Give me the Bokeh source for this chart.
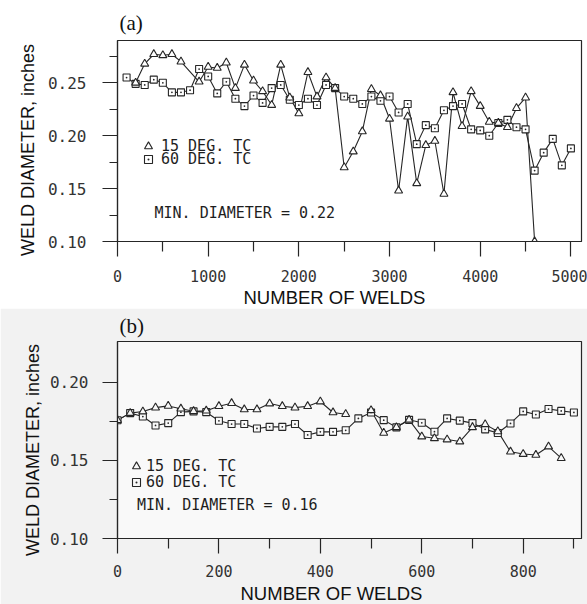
from bokeh.embed import file_html
from bokeh.layouts import column
from bokeh.models import (FixedTicker, Label, Legend, LegendItem,
                          NumeralTickFormatter, Range1d, Title)
from bokeh.plotting import figure
from bokeh.resources import INLINE

NAN = float("nan")  # missing reading: breaks the trace

# ---------------------------------------------------------------------------
# (a) weld diameter vs. number of welds, long run (readings every 100 welds)
# ---------------------------------------------------------------------------
welds_a_15 = [200, 300, 400, 500, 600, 700, 900, 1000, 1100, 1200, 1300, 1400,
              1500, 1600, 1700, 1800, 1900, 2000, 2100, 2200, 2300, 2400, 2500,
              2600, 2700, 2800, 2900, 3000, 3100, 3200, 3300, 3400, 3500, 3600,
              3700, 3800, 3900, 4000, 4100, 4200, 4300, 4400, 4500, 4600]
diam_a_15 = [0.250, 0.268, 0.277, 0.276, 0.277, 0.270, 0.251, 0.265, 0.264,
             0.269, 0.245, 0.267, 0.252, 0.242, 0.229, 0.267, 0.236, 0.221,
             0.260, 0.237, 0.255, 0.245, 0.170, 0.185, 0.204, 0.244, 0.238,
             0.216, 0.148, 0.218, 0.155, 0.191, 0.195, 0.145, 0.241, 0.209,
             0.242, 0.228, 0.213, 0.212, 0.208, 0.226, 0.236, 0.100]

welds_a_60 = [100, 200, 300, 400, 500, 600, 700, 800, 900, 1000, 1100, 1200,
              1300, 1400, 1500, 1600, 1700, 1800, 1900, 2000, 2100, 2200, 2300,
              2400, 2500, 2600, 2700, 2800, 2900, 3000, 3100, 3200, 3300, 3400,
              3500, 3600, 3700, 3800, 3900, 4000, 4100, 4200, 4300, 4400, 4500,
              4600, 4700, 4800, 4900, 5000]
diam_a_60 = [0.255, 0.249, 0.248, 0.253, 0.250, 0.241, 0.241, 0.243, 0.263,
             0.256, 0.240, 0.251, 0.235, 0.228, 0.238, 0.231, 0.245, 0.248,
             0.234, 0.229, 0.235, 0.229, 0.248, 0.245, 0.237, 0.235, 0.230,
             0.237, 0.233, 0.237, 0.222, 0.230, 0.192, 0.210, 0.207, 0.224,
             0.228, 0.230, 0.206, 0.205, 0.200, 0.212, 0.215, 0.208, 0.206,
             0.167, 0.184, 0.197, 0.172, 0.188]

# ---------------------------------------------------------------------------
# (b) weld diameter vs. number of welds, short run (readings every 25 welds)
# ---------------------------------------------------------------------------
welds_b_15 = [0, 25, 50, 75, 100, 125, 150, 175, 200, 225, 250, 275, 300, 325,
              350, 375, 400, 425, 450, 475, 500, 525, 550, 575, 600, 625, 650,
              675, 700, 725, 750, 775, 800, 825, 850, 875]
diam_b_15 = [0.1757, 0.1802, 0.1812, 0.1837, 0.1848, 0.1830, 0.1814, 0.1817,
             0.1846, 0.1865, 0.1825, 0.1825, 0.1863, 0.1846, 0.1837, 0.1846,
             0.1876, 0.1806, 0.1795, NAN, 0.1820, 0.1675, 0.1711, 0.1759,
             0.1652, 0.1641, 0.1633, 0.1620, 0.1711, 0.1730, 0.1685, 0.1555,
             0.1540, 0.1534, 0.1588, 0.1514]

welds_b_60 = [0, 25, 50, 75, 100, 125, 150, 175, 200, 225, 250, 275, 300, 325,
              350, 375, 400, 425, 450, 475, 500, 525, 550, 575, 600, 625, 650,
              675, 700, 725, 750, 775, 800, 825, 850, 875, 900]
diam_b_60 = [0.1756, 0.1802, 0.1780, 0.1723, 0.1738, 0.1808, 0.1813, 0.1808,
             0.1753, 0.1732, 0.1732, 0.1704, 0.1714, 0.1714, 0.1732, 0.1662,
             0.1682, 0.1682, 0.1692, 0.1768, 0.1806, 0.1757, 0.1711, 0.1759,
             0.1740, 0.1683, 0.1768, 0.1754, 0.1738, 0.1698, 0.1675, 0.1736,
             0.1813, 0.1793, 0.1828, 0.1816, 0.1806]

# axis ticks
xticks_a = [0, 1000, 2000, 3000, 4000, 5000]
xminor_a = [500, 1500, 2500, 3500, 4500]
yticks_a = [0.10, 0.15, 0.20, 0.25]
yminor_a = [0.125, 0.175, 0.225, 0.275]

xticks_b = [0, 200, 400, 600, 800]
xminor_b = [100, 300, 500, 700, 900]
yticks_b = [0.10, 0.15, 0.20]
yminor_b = [0.125, 0.175]

label_15 = "15 DEG. TC"
label_60 = "60 DEG. TC"
ytitle = "WELD DIAMETER, inches"
xtitle = "NUMBER OF WELDS"

MONO = "DejaVu Sans Mono"
SANS = "Liberation Sans"
SERIF = "Liberation Serif"
INK = "#262626"


def style_axes(p, xt, xm, yt, ym, xlab_standoff, ylab_standoff):
    p.xaxis.ticker = FixedTicker(ticks=xt, minor_ticks=xm)
    p.yaxis.ticker = FixedTicker(ticks=yt, minor_ticks=ym)
    p.yaxis.formatter = NumeralTickFormatter(format="0.00")
    for ax in (p.xaxis[0], p.yaxis[0]):
        ax.axis_line_color = INK
        ax.axis_line_width = 1.2
        ax.major_tick_line_color = INK
        ax.minor_tick_line_color = INK
        ax.major_tick_line_width = 1.2
        ax.minor_tick_line_width = 1.2
        ax.major_tick_in = 0
        ax.minor_tick_in = 0
        ax.major_tick_out = 15
        ax.major_label_text_font = MONO
        ax.major_label_text_color = "#333333"
    p.xaxis.minor_tick_out = 10
    p.yaxis.minor_tick_out = 8
    p.xaxis.major_label_text_font_size = "15px"
    p.yaxis.major_label_text_font_size = "16px"
    p.xaxis.major_label_standoff = xlab_standoff
    p.yaxis.major_label_standoff = ylab_standoff


def make_panel(height, xr, yr, borders, bg, frame_bg):
    left, right, top, bottom = borders
    p = figure(width=587, height=height, x_range=Range1d(*xr),
               y_range=Range1d(*yr), output_backend="svg",
               toolbar_location=None, min_border_left=left,
               min_border_right=right, min_border_top=top,
               min_border_bottom=bottom, background_fill_color=frame_bg,
               border_fill_color=bg)
    p.grid.visible = False
    p.outline_line_color = INK
    p.outline_line_width = 1.2
    return p


def add_titles(p, tag, tag_standoff, x_offset, x_standoff, y_offset, y_standoff):
    # panel tag above the frame, axis titles placed from the frame corner
    p.add_layout(Title(text=tag, align="left", offset=2, standoff=tag_standoff,
                       text_font=SERIF, text_font_size="21px",
                       text_font_style="normal", text_color="#111111"), "above")
    p.add_layout(Title(text=xtitle, align="left", offset=x_offset,
                       standoff=x_standoff, text_font=SANS,
                       text_font_size="18.5px", text_font_style="normal",
                       text_color="#111111"), "below")
    p.add_layout(Title(text=ytitle, align="left", offset=y_offset,
                       standoff=y_standoff, text_font=SANS,
                       text_font_size="18px", text_font_style="normal",
                       text_color="#111111"), "left")


def add_series(p, x15, y15, x60, y60, fill):
    p.line(x60, y60, line_color=INK, line_width=1.1)
    p.line(x15, y15, line_color=INK, line_width=1.1)
    sq = p.scatter(x60, y60, marker="square_dot", size=7, line_color=INK,
                   line_width=1.1, fill_color=fill)
    tr = p.scatter(x15, y15, marker="triangle", size=8, line_color=INK,
                   line_width=1.1, fill_color=fill)
    return tr, sq


def add_key(p, renderer, text, loc, standoff):
    leg = Legend(items=[LegendItem(label=text, renderers=[renderer])],
                 location=loc, orientation="vertical", glyph_width=20,
                 glyph_height=20, label_height=20, label_standoff=standoff,
                 padding=0, margin=0, spacing=0, background_fill_alpha=0,
                 border_line_alpha=0, label_text_font=MONO,
                 label_text_font_size="15px", label_text_color="#1e1e1e")
    p.add_layout(leg)


def add_note(p, x, y, text):
    p.add_layout(Label(x=x, y=y, x_units="screen", y_units="screen", text=text,
                       text_font=MONO, text_font_size="15px",
                       text_align="left", text_baseline="middle",
                       text_color="#1e1e1e"))


# ---- panel (a) ----
pa = make_panel(308, (0, 5117), (0.10, 0.29), (114, 6, 40, 67), "white", "white")
style_axes(pa, xticks_a, xminor_a, yticks_a, yminor_a, 13, 16)
tr_a, sq_a = add_series(pa, welds_a_15, diam_a_15, welds_a_60, diam_a_60, "white")
add_key(pa, tr_a, label_15, (21, 85), 3)
add_key(pa, sq_a, label_60, (21, 72), 3)
add_note(pa, 37, 29, "MIN. DIAMETER = 0.22")
add_titles(pa, "(a)", 11, 126, 0, -14.5, 14)

# ---- panel (b) ----
pb = make_panel(296, (0, 915), (0.10, 0.226), (117, 5, 31, 66), "#f2f2f2", "#f9f9f9")
style_axes(pb, xticks_b, xminor_b, yticks_b, yminor_b, 11, 14)
tr_b, sq_b = add_series(pb, welds_b_15, diam_b_15, welds_b_60, diam_b_60, "#f9f9f9")
add_key(pb, tr_b, label_15, (9, 62), -3)
add_key(pb, sq_b, label_60, (9, 46), -3)
add_note(pb, 19.5, 34, "MIN. DIAMETER = 0.16")
add_titles(pb, "(b)", 7, 123, 2, -17.5, 8)

layout = column(pa, pb, spacing=0)
open("out.html", "w").write(file_html(layout, INLINE))
